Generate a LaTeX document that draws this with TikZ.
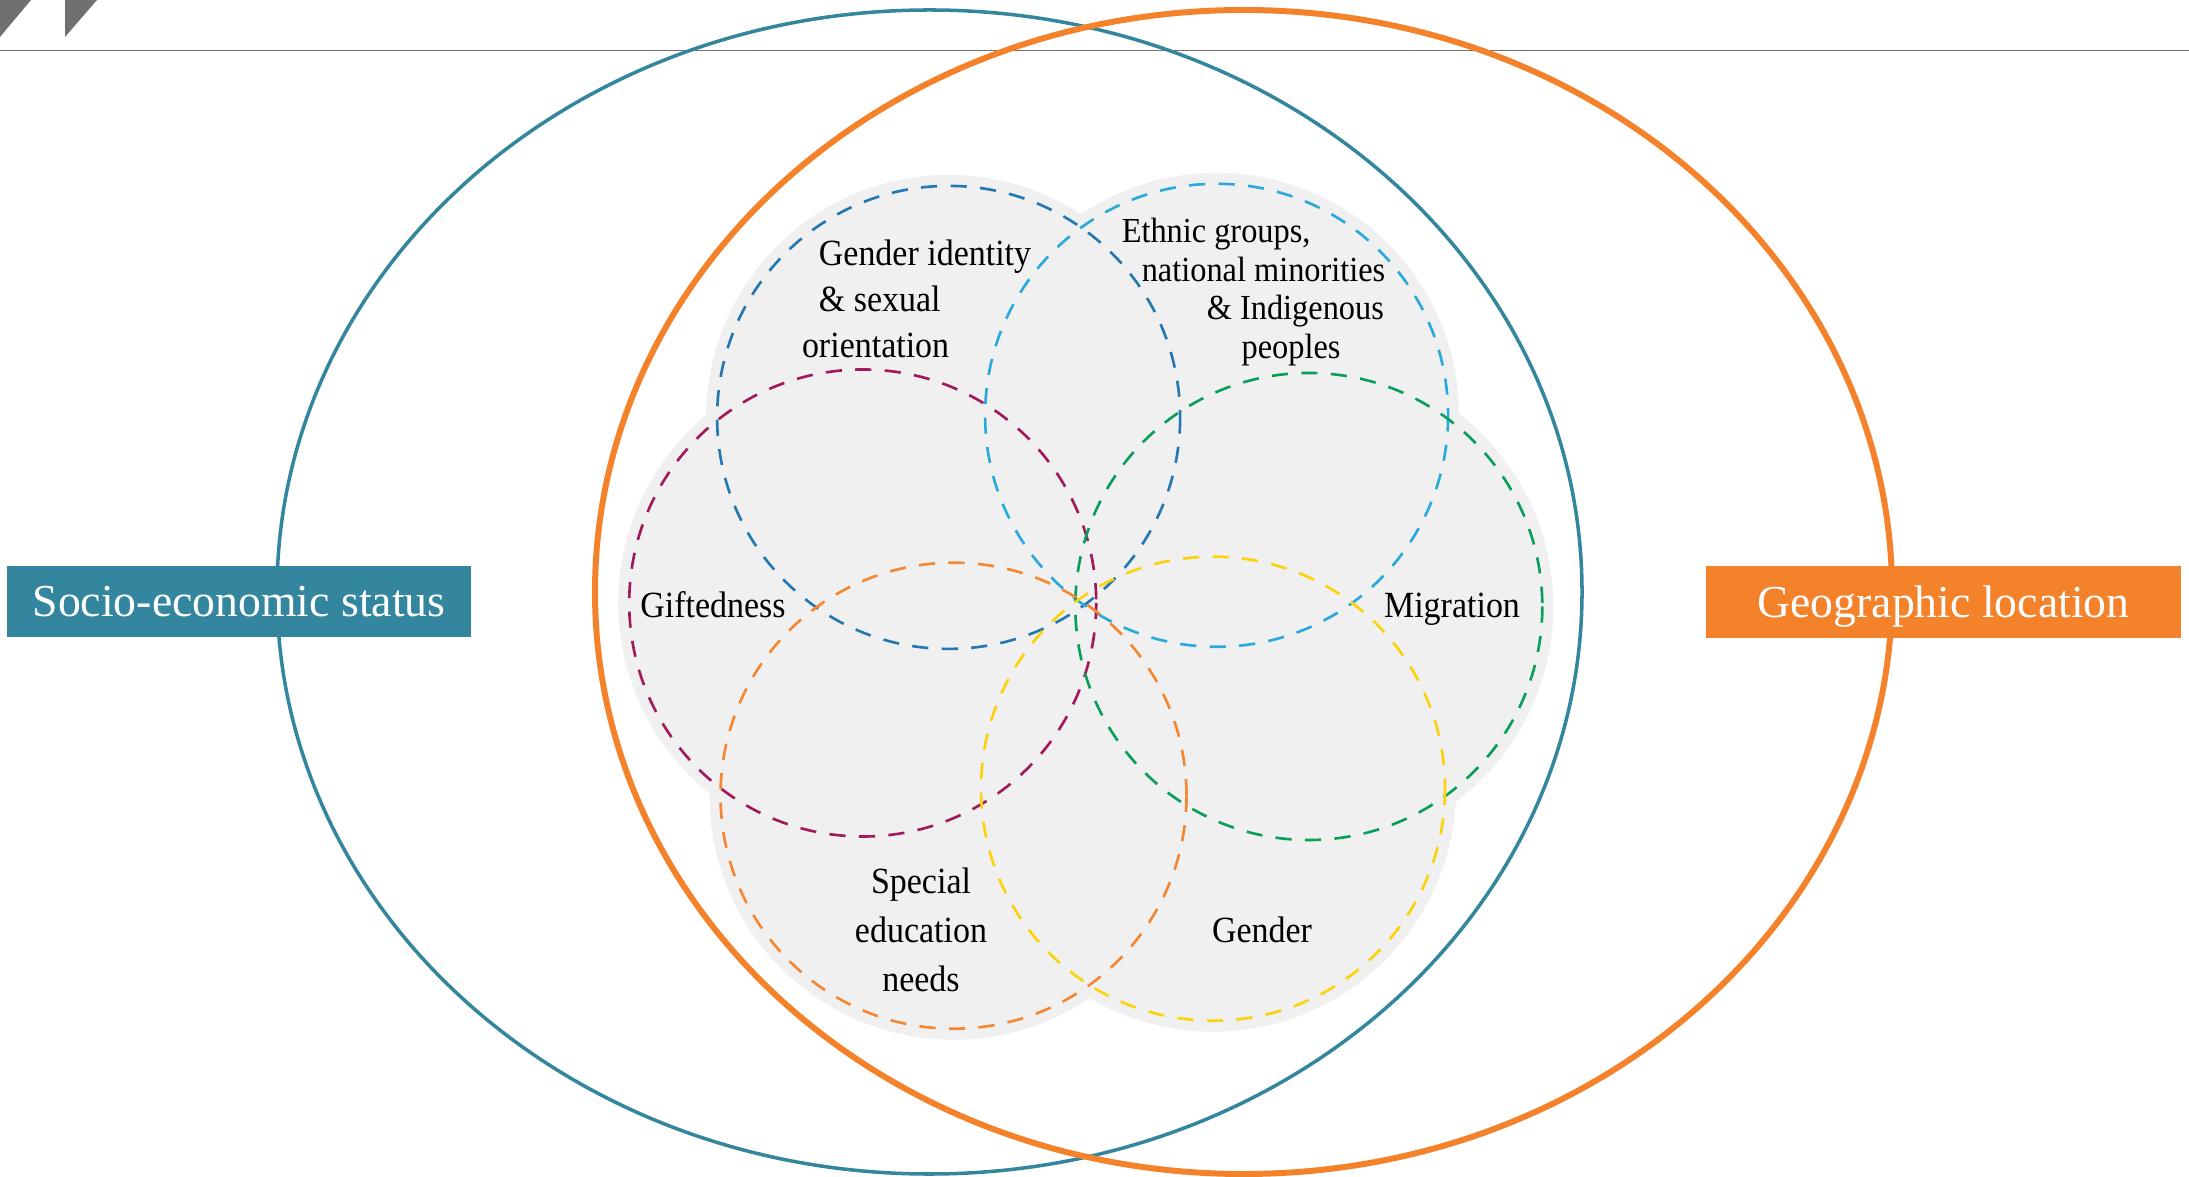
\documentclass[tikz,border=0pt]{standalone}
\usepackage{fontspec}
\setmainfont{Liberation Serif}[FakeStretch=0.92]
\newfontfamily\tagfont{Liberation Serif}
\usetikzlibrary{positioning}
\definecolor{sestat}{HTML}{33869D}
\definecolor{geoloc}{HTML}{F4822A}
\definecolor{petalgray}{HTML}{F0F0F0}
\definecolor{topgray}{HTML}{707070}
\definecolor{gicol}{HTML}{2377B3}
\definecolor{etcol}{HTML}{29A9DC}
\definecolor{gfcol}{HTML}{A2195B}
\definecolor{mgcol}{HTML}{0A9E5C}
\definecolor{sncol}{HTML}{F58733}
\definecolor{gncol}{HTML}{FCD20B}

\begin{document}
\begin{tikzpicture}[x=0.01cm, y=-0.01cm,
  ring/.style={dash pattern=on 4.6pt off 3.8pt, line width=0.75pt},
  tag/.style={text=white, font=\tagfont\fontsize{13}{15}\selectfont, minimum height=0.71cm, inner sep=0pt, text height=8.6pt, text depth=0pt},
  lbl/.style={font=\fontsize{10.5}{13}\selectfont, inner sep=0pt}]
\useasboundingbox (0,0) rectangle (2189,1177);
\fill[topgray] (0,0)--(31,0)--(0,37)--cycle;
\fill[topgray] (65,0)--(97,0)--(65,37)--cycle;
\draw[topgray, line width=0.45pt] (0,50.7)--(2189,50.7);
\draw[sestat, line width=1pt] (929.5,592) ellipse [x radius=652.5, y radius=582];
\draw[geoloc, line width=1.7pt] (1243.5,592) ellipse [x radius=648.5, y radius=582];
\foreach \cx/\cy/\r in {948.6/417.4/231.5, 1216.6/415.3/231.5, 862.7/603/233.5, 1308.8/606.5/233.5, 953.5/795.7/233, 1213/788.7/232}
  \fill[petalgray] (\cx,\cy) circle [radius=\r+11];
\foreach \cx/\cy/\r/\c in {948.6/417.4/231.5/gicol, 1216.6/415.3/231.5/etcol, 862.7/603/233.5/gfcol, 1308.8/606.5/233.5/mgcol, 953.5/795.7/233/sncol, 1213/788.7/232/gncol}
  \draw[ring, \c] (\cx,\cy) circle [radius=\r];
\node[lbl, align=left] (gid) at (925,299) {Gender identity\\\& sexual\\\hspace*{-4.8pt}orientation};
\node[lbl, align=left, font=\fontsize{10}{11}\selectfont] (eth) at (1253.5,292) {Ethnic groups,\\\hspace*{5.7pt}national minorities\\\hspace*{24.2pt}\& Indigenous\\\hspace*{34.1pt}peoples};
\node[lbl] (gif) at (713,604.5) {Giftedness};
\node[lbl] (mig) at (1452,609) {Migration};
\node[lbl, align=center, font=\fontsize{10.5}{14}\selectfont] (sen) at (921,930) {Special\\education\\needs};
\node[lbl] (gen) at (1262,930) {Gender};
\node[tag, fill=sestat, minimum width=4.64cm] (ses) at (239,601.5) {Socio-economic status};
\node[tag, fill=geoloc, minimum width=4.75cm] (geo) at (1943.5,602) {Geographic location};
\end{tikzpicture}
\end{document}
